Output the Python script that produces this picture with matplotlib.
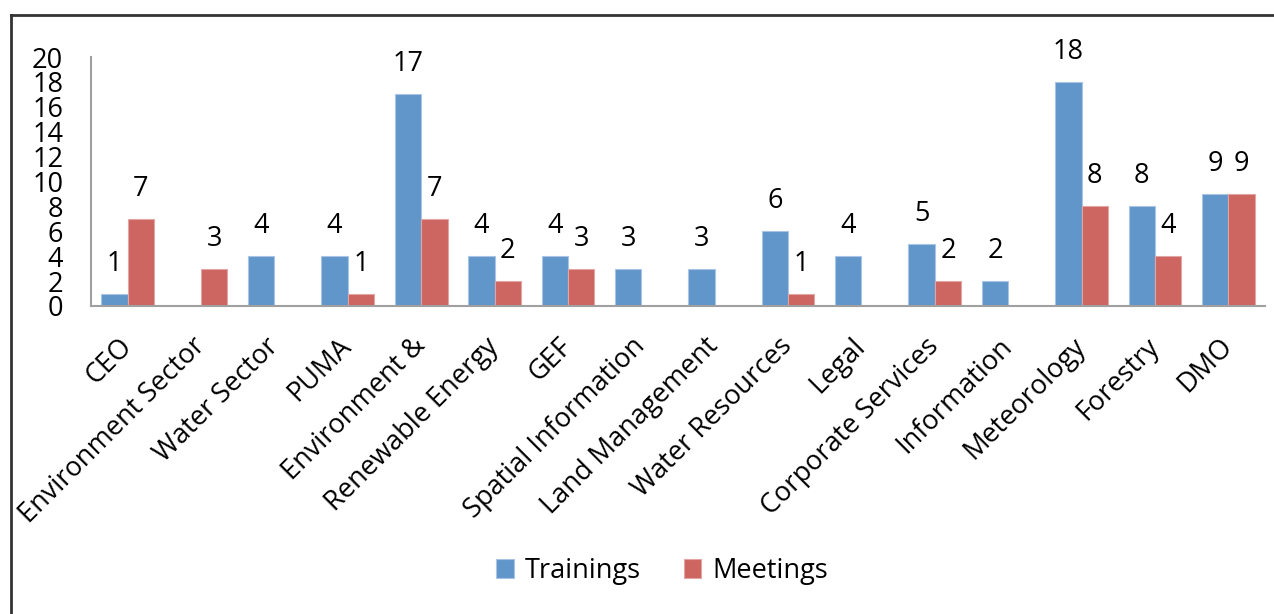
import matplotlib
matplotlib.use("Agg")
import matplotlib.pyplot as plt
from matplotlib.lines import Line2D
import numpy as np

plt.rcParams['font.family'] = ['Open Sans', 'DejaVu Sans']

categories = ["CEO", "Environment Sector", "Water Sector", "PUMA", "Environment &",
              "Renewable Energy", "GEF", "Spatial Information", "Land Management",
              "Water Resources", "Legal", "Corporate Services", "Information",
              "Meteorology", "Forestry", "DMO"]
trainings = [1, 0, 4, 4, 17, 4, 4, 3, 3, 6, 4, 5, 2, 18, 8, 9]
meetings = [7, 3, 0, 1, 7, 2, 3, 0, 0, 1, 0, 2, 0, 8, 4, 9]
yticks = [0, 2, 4, 6, 8, 10, 12, 14, 16, 18, 20]

blue = "#6096CA"
red = "#CD6561"

W, H = 1274, 614
fig = plt.figure(figsize=(W / 100, H / 100), dpi=100)
ax = fig.add_axes([91 / W, 1 - 306 / H, (1265 - 91) / W, (306 - 57) / H])

x = np.arange(len(categories))
bw = 0.36
b1 = ax.bar(x - bw / 2, trainings, bw, color=blue, edgecolor="#A9C4E4", linewidth=0.8, label="Trainings")
b2 = ax.bar(x + bw / 2, meetings, bw, color=red, edgecolor="#E3A5A3", linewidth=0.8, label="Meetings")

fs = 19.5
for bars, vals in ((b1, trainings), (b2, meetings)):
    for r, v in zip(bars, vals):
        if v == 0:
            continue
        ax.annotate(str(v), (r.get_x() + r.get_width() / 2, v), xytext=(0, 30),
                    textcoords="offset pixels", ha="center", va="center", fontsize=fs,
                    color="black", annotation_clip=False)

ax.set_xlim(-0.5, len(categories) - 0.5)
ax.set_ylim(0, 20)
ax.set_yticks(yticks)
ax.set_yticklabels([str(t) for t in yticks], fontsize=fs)
ax.set_xticks(x)
ax.set_xticklabels(categories, fontsize=fs, rotation=45, ha="right", va="center",
                   rotation_mode="anchor")
ax.tick_params(axis="y", length=0, pad=20)
ax.tick_params(axis="x", length=0, pad=26)
for s in ("top", "right"):
    ax.spines[s].set_visible(False)
for s in ("left", "bottom"):
    ax.spines[s].set_color("#A0A0A0")
    ax.spines[s].set_linewidth(1.5)

fig.legend(handles=[b1, b2], labels=["Trainings", "Meetings"], loc="center",
           bbox_to_anchor=(662 / W, 1 - 571 / H), ncol=2, frameon=False, fontsize=fs,
           handlelength=0.65, handleheight=0.65, handletextpad=0.4, columnspacing=1.6)

# outer frame (left and top)
fig.add_artist(Line2D([11 / W, 11 / W], [0, 1 - 15 / H], transform=fig.transFigure,
                      color="#333333", linewidth=2.0, solid_capstyle="projecting"))
fig.add_artist(Line2D([11 / W, 1], [1 - 15 / H, 1 - 15 / H], transform=fig.transFigure,
                      color="#333333", linewidth=2.0, solid_capstyle="projecting"))

fig.savefig("out.png", dpi=100)
